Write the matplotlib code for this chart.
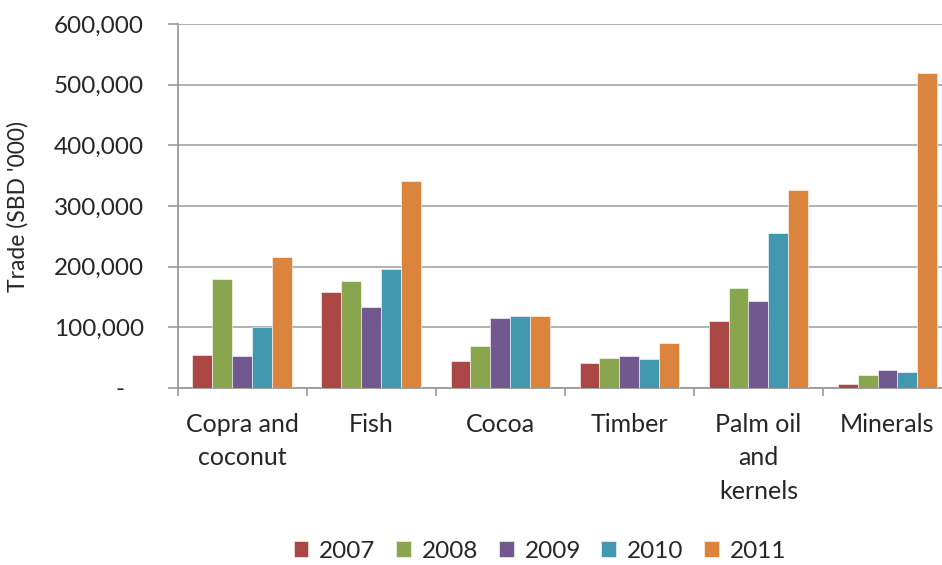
import matplotlib
matplotlib.use("Agg")
import matplotlib.pyplot as plt
import numpy as np
from matplotlib.ticker import FuncFormatter

# Export trade by commodity, SBD '000
categories = ["Copra and\ncoconut", "Fish", "Cocoa", "Timber", "Palm oil\nand\nkernels", "Minerals"]
years = ["2007", "2008", "2009", "2010", "2011"]
v2007 = [54000, 158000, 45000, 41000, 110000, 6000]
v2008 = [179000, 176000, 70000, 50000, 165000, 21000]
v2009 = [52000, 134000, 116000, 52000, 143000, 30000]
v2010 = [100000, 196000, 119000, 48000, 256000, 26000]
v2011 = [216000, 342000, 119000, 75000, 327000, 519000]
series = [v2007, v2008, v2009, v2010, v2011]
colors = ["#AA4643", "#89A54E", "#71588F", "#4198AF", "#DB843D"]
yticks = [0, 100000, 200000, 300000, 400000, 500000, 600000]

plt.rcParams["font.family"] = ["Lato", "DejaVu Sans"]

fig = plt.figure(figsize=(9.42, 5.65), dpi=100)
ax = fig.add_axes([177.5 / 942, 1 - 388 / 565, 774.5 / 942, (388 - 24) / 565])

n = len(series)
bw = 0.154
x = np.arange(len(categories))
for i, (vals, col) in enumerate(zip(series, colors)):
    offs = (i - (n - 1) / 2) * bw
    ax.bar(x + offs, vals, width=bw, color=col, edgecolor="white",
           linewidth=0.4, label=years[i], zorder=3)

ax.set_xlim(-0.5, len(categories) - 0.5)
ax.set_ylim(0, 600000)
ax.set_yticks(yticks)
ax.yaxis.set_major_formatter(FuncFormatter(lambda v, p: "-   " if v == 0 else f"{int(v):,}"))
ax.yaxis.grid(True, color="#ababab", linewidth=1.3, zorder=0)
ax.set_axisbelow(True)

# Category labels centred, boundary ticks between categories
ax.set_xticks(x)
ax.set_xticklabels(categories, linespacing=1.55)
ax.set_xticks(np.arange(len(categories) + 1) - 0.5, minor=True)
ax.tick_params(axis="x", which="major", length=0, pad=18, labelsize=18, colors="#262626")
ax.tick_params(axis="x", which="minor", length=6, width=1.2, color="#9a9a9a")
ax.tick_params(axis="y", length=7, width=1.2, color="#9a9a9a", pad=17,
               labelsize=17.5, labelcolor="#262626")

for s in ["top", "right"]:
    ax.spines[s].set_visible(False)
for s in ["left", "bottom"]:
    ax.spines[s].set_color("#9a9a9a")
    ax.spines[s].set_linewidth(1.3)

ax.set_ylabel("Trade (SBD '000)", fontsize=16.5, color="#262626")
ax.yaxis.set_label_coords(-0.192, 0.5)

fig.legend(loc="center", bbox_to_anchor=(540 / 942, 1 - 551 / 565), ncol=5,
           frameon=False, fontsize=17.5, handlelength=0.6, handleheight=0.6,
           handletextpad=0.45, columnspacing=0.85, labelcolor="#262626")

fig.savefig("out.png", dpi=100)
